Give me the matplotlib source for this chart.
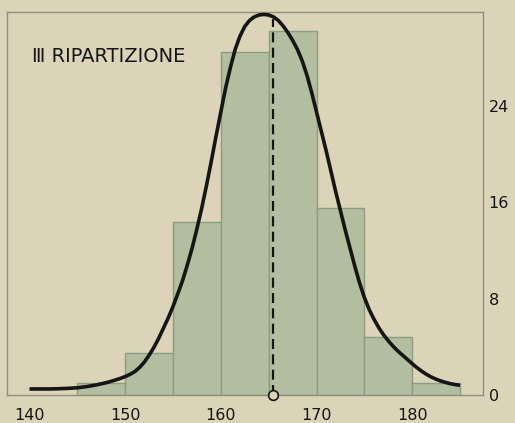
import matplotlib
matplotlib.use("Agg")
import matplotlib.pyplot as plt

# ---- data ----
bin_left = [145, 150, 155, 160, 165, 170, 175, 180]
bin_width = 5
bar_heights = [1.0, 3.5, 14.4, 28.5, 30.2, 15.5, 4.8, 1.0]

curve_x = [140, 141, 142, 143, 144, 145, 146, 147, 148, 148.5, 149, 149.5,
           150, 150.5, 151, 151.5, 152, 152.5, 153, 153.5, 154, 154.5,
           155, 155.5, 156, 156.5, 157, 157.5, 158, 158.5, 159, 159.5,
           160, 160.5, 161, 161.5, 162, 162.5, 163, 163.5, 164, 164.5,
           165, 165.5, 166, 166.5, 167, 167.5, 168, 168.5, 169, 169.5,
           170, 170.5, 171, 171.5, 172, 172.5, 173, 173.5, 174, 174.5,
           175, 175.5, 176, 176.5, 177, 177.5, 178, 178.5, 179, 179.5,
           180, 180.5, 181, 181.5, 182, 182.5, 183, 183.5, 184, 184.5, 185]
curve_y = [0.5, 0.5, 0.5, 0.52, 0.55, 0.6, 0.7, 0.84, 1.02, 1.13, 1.25, 1.38,
           1.53, 1.71, 1.94, 2.28, 2.73, 3.3, 3.95, 4.7, 5.55, 6.4,
           7.35, 8.4, 9.5, 10.8, 12.2, 13.8, 15.5, 17.4, 19.4, 21.5,
           23.5, 25.5, 27.2, 28.7, 29.8, 30.6, 31.1, 31.4, 31.55, 31.6,
           31.55, 31.4, 31.1, 30.65, 30.1, 29.45, 28.7, 27.75, 26.55, 25.1,
           23.5, 21.9, 20.3, 18.6, 16.9, 15.3, 13.7, 12.2, 10.7, 9.3,
           8.1, 7.1, 6.3, 5.6, 5.0, 4.5, 4.05, 3.65, 3.3, 2.95,
           2.6, 2.27, 1.97, 1.71, 1.49, 1.31, 1.16, 1.04, 0.94, 0.86, 0.8]

mean_value = 165.4
x_ticks = [140, 150, 160, 170, 180]
y_ticks = [0, 8, 16, 24]
title_text = "Ⅲ RIPARTIZIONE"

# ---- style ----
bg = "#dbd4b9"
bar_fill = "#b3bd9f"
bar_edge = "#8e9c80"
frame_col = "#8f8f80"
ink = "#151515"

fig = plt.figure(figsize=(5.15, 4.23), dpi=100, facecolor=bg)
ax = fig.add_axes([7/515, 28/423, 476/515, 383/423], facecolor=bg)

ax.bar(bin_left, bar_heights, width=bin_width, align="edge",
       color=bar_fill, edgecolor=bar_edge, linewidth=1.0, zorder=2)

ax.plot(curve_x, curve_y, color=ink, linewidth=2.6, solid_capstyle="butt",
        solid_joinstyle="round", zorder=4)

peak = max(curve_y)
ax.plot([mean_value, mean_value], [0, peak - 0.35], color=ink, linewidth=1.6,
        linestyle=(0, (4.5, 2.4)), zorder=5)
ax.plot([mean_value], [0], marker="o", markersize=7, markerfacecolor=bg,
        markeredgecolor=ink, markeredgewidth=1.2, clip_on=False, zorder=6)

ax.set_xlim(137.65, 187.4)
ax.set_ylim(0, 31.8)

ax.set_xticks(x_ticks)
ax.set_xticklabels([str(t) for t in x_ticks])
ax.set_yticks(y_ticks)
ax.set_yticklabels([str(t) for t in y_ticks])
ax.yaxis.tick_right()
ax.tick_params(axis="both", length=0, labelsize=11.5, colors=ink)
ax.tick_params(axis="x", pad=9)
ax.tick_params(axis="y", pad=4)

for s in ax.spines.values():
    s.set_color(frame_col)
    s.set_linewidth(1.0)

ax.text(0.052, 0.885, title_text, transform=ax.transAxes, fontsize=14,
        color=ink, ha="left", va="center")

fig.savefig("out.png", dpi=100, facecolor=bg)
